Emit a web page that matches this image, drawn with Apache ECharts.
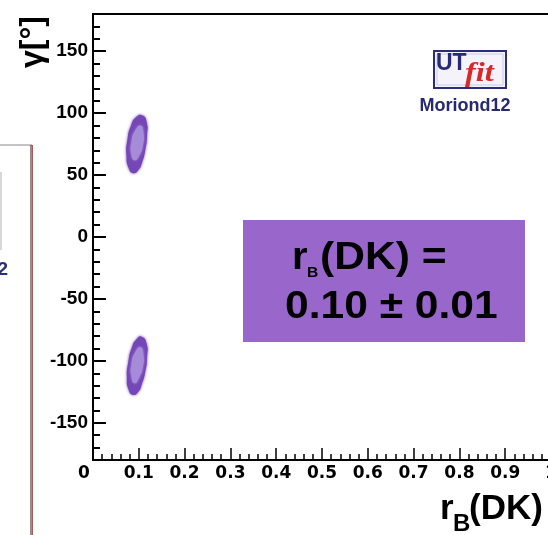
<!DOCTYPE html>
<html>
<head>
<meta charset="utf-8">
<script src="https://cdn.jsdelivr.net/npm/echarts@6/dist/echarts.min.js"></script>
<style>
  html, body { margin: 0; padding: 0; background: #fff; }
  #main { width: 548px; height: 535px; }
</style>
</head>
<body>
<div id="main"></div>
<script>
// axis ranges and ticks
var xMin = 0, xMax = 1, xStep = 0.1;
var yMin = -180, yMax = 180;
var yMajorTicks = [-150, -100, -50, 0, 50, 100, 150];
var yMinorTicks = [-170, -160, -150, -140, -130, -120, -110, -100, -90, -80, -70, -60, -50, -40, -30, -20, -10,
  0, 10, 20, 30, 40, 50, 60, 70, 80, 90, 100, 110, 120, 130, 140, 150, 160, 170];

// probability contours, [rB, gamma]
var upperOuter = [[0.108, 98], [0.117, 93], [0.118, 82], [0.114, 70], [0.107, 60], [0.099, 54], [0.088, 51.5],
  [0.078, 55.5], [0.073, 66], [0.075, 78], [0.083, 90], [0.095, 97]];
var upperInner = [[0.104, 90], [0.110, 85], [0.109, 74], [0.100, 65], [0.091, 62], [0.084, 66], [0.084, 77], [0.093, 86.5]];
var lowerOuter = [[0.106, -80.5], [0.117, -86], [0.118, -97], [0.114, -109], [0.106, -119.5], [0.099, -125], [0.088, -127.5],
  [0.078, -123.5], [0.074, -113], [0.077, -101], [0.085, -89], [0.095, -82.5]];
var lowerInner = [[0.104, -89], [0.110, -94.5], [0.109, -105], [0.100, -114], [0.091, -118], [0.084, -113], [0.084, -102.5], [0.093, -92.5]];

var contours = [upperOuter, upperInner, lowerOuter, lowerInner];
var contourColors = ['#7446b6', '#a68bd9', '#7446b6', '#a68bd9'];

var chart = echarts.init(document.getElementById('main'));
var F = '"Liberation Sans", Arial, sans-serif';

function txt(x, y, s, font, color, align, extra) {
  var el = {
    type: 'text', x: x, y: y,
    style: { text: s, font: font, fill: color, textAlign: align, align: align, textVerticalAlign: 'middle', verticalAlign: 'middle' }
  };
  if (extra) for (var k in extra) el[k] = extra[k];
  return el;
}

var option = {
  animation: false,
  backgroundColor: '#fff',
  grid: {
    left: 93, top: 14, width: 458, height: 446,
    outerBoundsMode: 'none', containLabel: false,
    show: true, borderColor: '#000', borderWidth: 2, backgroundColor: 'transparent'
  },
  xAxis: {
    type: 'value', min: xMin, max: xMax, interval: xStep,
    axisLine: { onZero: false, lineStyle: { color: '#000', width: 2 } },
    axisTick: { inside: true, length: 12, lineStyle: { color: '#000', width: 1.5 } },
    minorTick: { show: true, splitNumber: 5, length: 6, lineStyle: { color: '#000', width: 1.5 } },
    splitLine: { show: false },
    axisLabel: {
      showMaxLabel: true, margin: 5, color: '#000',
      fontFamily: 'DejaVu Sans', fontWeight: 'bold', fontSize: 17,
      formatter: function (v) {
        if (v === 0) return '{z|0}';
        return String(Math.round(v * 10) / 10);
      },
      rich: { z: { fontFamily: 'DejaVu Sans', fontWeight: 'bold', fontSize: 17, color: '#000', padding: [0, 18, 0, 0] } }
    }
  },
  yAxis: [{
    type: 'value', min: yMin, max: yMax,
    axisLine: { onZero: false, lineStyle: { color: '#000', width: 2 } },
    axisTick: { inside: true, length: 13, customValues: yMajorTicks, lineStyle: { color: '#000', width: 2 } },
    splitLine: { show: false },
    axisLabel: {
      customValues: yMajorTicks, margin: 5, color: '#000',
      fontFamily: F, fontWeight: 'bold', fontSize: 19
    }
  }, {
    type: 'value', min: yMin, max: yMax, position: 'left',
    axisLine: { show: false, onZero: false },
    axisTick: { inside: true, length: 7, customValues: yMinorTicks, lineStyle: { color: '#000', width: 2 } },
    splitLine: { show: false },
    axisLabel: { show: false }
  }],
  series: [{
    type: 'custom',
    coordinateSystem: 'cartesian2d',
    silent: true,
    clip: true,
    data: contours.map(function (c, i) { return [i]; }),
    renderItem: function (params, api) {
      var pts = contours[params.dataIndex].map(function (p) { return api.coord(p); });
      var col = contourColors[params.dataIndex];
      return {
        type: 'polygon',
        shape: { points: pts, smooth: 0.6 },
        style: { fill: col, shadowBlur: 3, shadowColor: col }
      };
    }
  }],
  graphic: [
    // fragment of neighbouring panel
    { type: 'line', shape: { x1: 0, y1: 145, x2: 32, y2: 145 }, style: { stroke: '#888', lineWidth: 1 } },
    { type: 'line', shape: { x1: 31, y1: 145, x2: 31, y2: 535 }, style: { stroke: '#3a1818', lineWidth: 1 } },
    { type: 'line', shape: { x1: 32.5, y1: 145, x2: 32.5, y2: 535 }, style: { stroke: '#a85a5a', lineWidth: 1 } },
    { type: 'rect', shape: { x: 0, y: 172, width: 2, height: 78 }, style: { fill: '#d8d8d8' } },
    txt(8, 270, '2', 'bold 19px ' + F, '#2b2f75', 'right'),

    // y title
    txt(33, 42, 'γ[°]', 'bold 32px ' + F, '#000', 'center', { rotation: Math.PI / 2 }),

    // x title
    txt(440, 509, 'r', 'bold 35px ' + F, '#000', 'left'),
    txt(453, 524, 'B', 'bold 24px ' + F, '#000', 'left'),
    txt(469, 509, '(DK)', 'bold 35px ' + F, '#000', 'left'),

    // UTfit logo
    { type: 'rect', shape: { x: 434, y: 51, width: 72, height: 37 }, style: { fill: '#f5f3f9', stroke: '#2a2d7c', lineWidth: 2 } },
    { type: 'rect', shape: { x: 437, y: 54, width: 66, height: 31 }, style: { fill: 'none', stroke: '#c9cbe6', lineWidth: 1 } },
    txt(436, 64, 'UT', 'bold 23px ' + F, '#262a7a', 'left'),
    txt(465, 74, 'fit', 'italic bold 27px "Liberation Serif", serif', '#d42a2a', 'left', { scaleX: 1.2 }),
    txt(465, 106, 'Moriond12', 'bold 18px ' + F, '#262a6e', 'center'),

    // result box
    { type: 'rect', shape: { x: 243, y: 220, width: 282, height: 122 }, style: { fill: '#9966cc' } },
    txt(292, 259, 'r', 'bold 38px ' + F, '#000', 'left', { scaleX: 1.05 }),
    txt(307, 273, 'B', 'bold 14px ' + F, '#000', 'left', { scaleX: 1.12 }),
    txt(320, 259, '(DK) =', 'bold 38px ' + F, '#000', 'left', { scaleX: 1.12 }),
    txt(285, 308, '0.10 ± 0.01', 'bold 38px ' + F, '#000', 'left', { scaleX: 1.12 })
  ]
};

chart.setOption(option);
</script>
</body>
</html>
